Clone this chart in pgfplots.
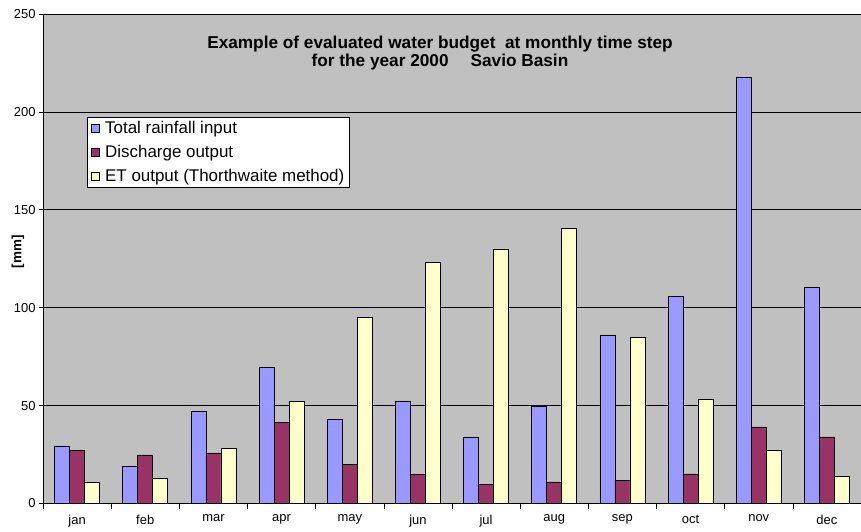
\documentclass[border=0pt]{standalone}
\usepackage{pgfplots}
\pgfplotsset{compat=1.18}
\usepackage{fontspec}
\setmainfont{Liberation Sans}
\definecolor{bgray}{HTML}{C0C0C0}
\definecolor{rainc}{HTML}{9999FF}
\definecolor{dischc}{HTML}{993366}
\definecolor{etc}{HTML}{FFFFCC}
\begin{document}
\begin{tikzpicture}
\path[use as bounding box] (-43bp,-28.5bp) rectangle (818bp,503.5bp);
\begin{axis}[
  scale only axis, width=818bp, height=489.5bp,
  at={(0,0)}, anchor=south west,
  xmin=-0.5, xmax=11.5, ymin=0, ymax=250,
  axis background/.style={fill=bgray},
  axis x line*=bottom, axis y line*=left,
  axis line style={-, black, line width=0.8bp},
  ytick={0,50,...,250}, ymajorgrids, grid style={black, line width=0.6bp},
  xtick={0,...,11},
  xticklabels={jan,feb,mar,apr,may,jun,jul,aug,sep,oct,nov,dec},
  minor xtick={-0.5,0.5,...,11.5},
  major x tick style={draw=none},
  tick align=outside, major tick length=4bp, minor tick length=5bp,
  tick style={black, line width=0.6bp},
  ticklabel style={font=\fontsize{13}{15}\selectfont},
  xticklabel style={yshift=-4bp},
  /pgf/number format/assume math mode=true,
  ylabel={[mm]},
  ylabel style={font=\fontsize{13.5}{15}\selectfont\bfseries, at={(axis description cs:-0.0306,0.514)}, anchor=center},
  ybar=0pt, bar width=15bp,
  legend style={at={(0.0538,0.7896)}, anchor=north west, draw=black, fill=white,
    font=\fontsize{17}{19}\selectfont, row sep=6.5bp, inner xsep=3bp, inner ysep=2bp},
  legend cell align=left,
  legend image code/.code={\draw[#1, draw=black, line width=0.6bp] (0bp,-4bp) rectangle (8bp,4bp); \path[draw=none, fill=none] (-1bp,0bp) rectangle (12bp,0.1bp);},
]
\addplot[fill=rainc, draw=black, line width=0.8bp] coordinates {
 (0,29.4) (1,18.8) (2,46.8) (3,69.3) (4,42.8) (5,52.4) (6,34) (7,49.8) (8,86.1) (9,105.6) (10,217.5) (11,110.2)};
\addplot[fill=dischc, draw=black, line width=0.8bp] coordinates {
 (0,27.2) (1,24.8) (2,25.8) (3,41.5) (4,19.8) (5,14.7) (6,9.6) (7,11) (8,12) (9,15.1) (10,39.1) (11,34)};
\addplot[fill=etc, draw=black, line width=0.8bp] coordinates {
 (0,10.6) (1,12.9) (2,28.2) (3,51.9) (4,94.8) (5,123) (6,130) (7,140.3) (8,84.6) (9,53.3) (10,27.2) (11,13.7)};
\legend{Total rainfall input, Discharge output, ET output (Thorthwaite method)}
\node[align=center, font=\bfseries\fontsize{17.3}{18}\selectfont] at (rel axis cs:0.4853,0.9203)
  {Example of evaluated water budget\ \ at monthly time step\\for the year 2000\hspace{22bp}Savio Basin};
\end{axis}
\end{tikzpicture}
\end{document}
